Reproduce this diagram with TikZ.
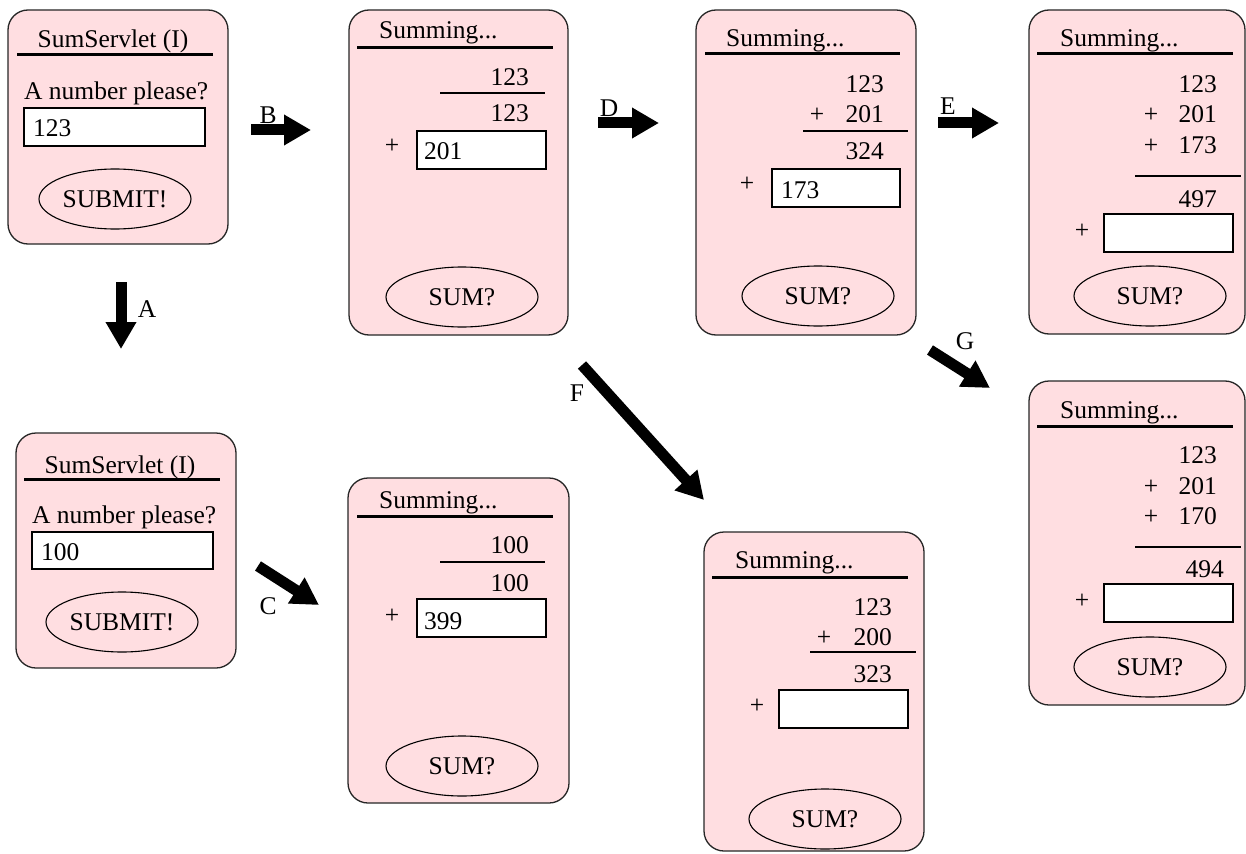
\documentclass[tikz,border=0pt]{standalone}
\usepackage{fontspec}
\setmainfont{Liberation Serif}
\usetikzlibrary{arrows.meta,shapes.geometric}
\definecolor{winpink}{RGB}{255,222,225}
\tikzset{
  window/.style={draw=black!85,line width=1.3pt,fill=winpink,rounded corners=20pt},
  header/.style={line width=3pt},
  field/.style={draw,line width=1.2pt,fill=white},
  sumrule/.style={line width=1.1pt},
  button/.style={draw,ellipse,line width=1.1pt,minimum width=152pt,minimum height=60pt},
  bigarrow/.style={line width=11pt,-{Triangle[length=27pt,width=29pt]}}
}
\begin{document}
\begin{tikzpicture}[x=1pt,y=-1pt,every node/.style={font=\fontsize{25.5}{30}\selectfont,inner sep=0pt}]
		\useasboundingbox (0,0) rectangle (1246,853);
		% Window 1: first form
		\draw[window] (8,10) rectangle (228,244);
		\draw[header] (17,55) -- (213,55);
		\node[anchor=base] (t1) at (113,48) {SumServlet (I)};
		\node[anchor=base west] (q1) at (24,100) {A number please?};
		\draw[field] (24,108) rectangle (205,146);
		\node[anchor=base west] (v1) at (33,137) {123};
		\node[button] (s1) at (115,199) {SUBMIT!};
		% Window 2: first sum
		\draw[window] (349,10) rectangle (568,335);
		\draw[header] (357,48) -- (553,48);
		\node[anchor=base west] (t2) at (379,39) {Summing...};
		\node[anchor=base east] (n2a) at (529,86) {123};
		\draw[sumrule] (440,93) -- (545,93);
		\node[anchor=base east] (n2b) at (529,122) {123};
		\node[anchor=base] (p2) at (392,154) {+};
		\draw[field] (417,131) rectangle (546,169);
		\node[anchor=base west] (v2) at (424,160) {201};
		\node[button] (s2) at (462,297) {SUM?};
		% Window 3: second sum
		\draw[window] (696,10) rectangle (916,335);
		\draw[header] (705,54) -- (900,54);
		\node[anchor=base west] (t3) at (726,47) {Summing...};
		\node[anchor=base east] (n3a) at (884,93) {123};
		\node[anchor=base] (p3a) at (817,123) {+};
		\node[anchor=base east] (n3b) at (884,123) {201};
		\draw[sumrule] (803,131) -- (908,131);
		\node[anchor=base east] (n3c) at (884,160) {324};
		\node[anchor=base] (p3) at (747,191) {+};
		\draw[field] (772,169) rectangle (900,207);
		\node[anchor=base west] (v3) at (781,198) {173};
		\node[button] (s3) at (818,296) {SUM?};
		% Window 4: third sum
		\draw[window] (1029,10) rectangle (1245,334);
		\draw[header] (1037,54) -- (1233,54);
		\node[anchor=base west] (t4) at (1060,47) {Summing...};
		\node[anchor=base east] (n4a) at (1217,93) {123};
		\node[anchor=base] (p4a) at (1151,123) {+};
		\node[anchor=base east] (n4b) at (1217,123) {201};
		\node[anchor=base] (p4b) at (1151,154) {+};
		\node[anchor=base east] (n4c) at (1217,154) {173};
		\draw[sumrule] (1135,176) -- (1241,176);
		\node[anchor=base east] (n4d) at (1217,207) {497};
		\node[anchor=base] (p4) at (1082,238) {+};
		\draw[field] (1104,214) rectangle (1233,252);
		\node[button] (s4) at (1150,296) {SUM?};
		% Window 5: second form
		\draw[window] (16,433) rectangle (236,668);
		\draw[header] (24,479) -- (220,479);
		\node[anchor=base] (t5) at (120,473) {SumServlet (I)};
		\node[anchor=base west] (q5) at (32,523) {A number please?};
		\draw[field] (32,532) rectangle (213,569);
		\node[anchor=base west] (v5) at (41,560) {100};
		\node[button] (s5) at (122,622) {SUBMIT!};
		% Window 6: sum of second form
		\draw[window] (348,478) rectangle (569,803);
		\draw[header] (357,516) -- (553,516);
		\node[anchor=base west] (t6) at (379,508) {Summing...};
		\node[anchor=base east] (n6a) at (529,553) {100};
		\draw[sumrule] (440,562) -- (545,562);
		\node[anchor=base east] (n6b) at (529,591) {100};
		\node[anchor=base] (p6) at (392,623) {+};
		\draw[field] (417,599) rectangle (546,637);
		\node[anchor=base west] (v6) at (424,629) {399};
		\node[button] (s6) at (462,766) {SUM?};
		% Window 7: F
		\draw[window] (704,532) rectangle (924,851);
		\draw[header] (712,577) -- (908,577);
		\node[anchor=base west] (t7) at (735,568) {Summing...};
		\node[anchor=base east] (n7a) at (892,615) {123};
		\node[anchor=base] (p7a) at (824,645) {+};
		\node[anchor=base east] (n7b) at (892,645) {200};
		\draw[sumrule] (810,652) -- (916,652);
		\node[anchor=base east] (n7c) at (892,682) {323};
		\node[anchor=base] (p7) at (757,713) {+};
		\draw[field] (779,690) rectangle (908,728);
		\node[button] (s7) at (825,819) {SUM?};
		% Window 8: G
		\draw[window] (1029,381) rectangle (1245,705);
		\draw[header] (1037,426) -- (1233,426);
		\node[anchor=base west] (t8) at (1060,418) {Summing...};
		\node[anchor=base east] (n8a) at (1217,463) {123};
		\node[anchor=base] (p8a) at (1151,494) {+};
		\node[anchor=base east] (n8b) at (1217,494) {201};
		\node[anchor=base] (p8b) at (1151,524) {+};
		\node[anchor=base east] (n8c) at (1217,524) {170};
		\draw[sumrule] (1135,547) -- (1241,547);
		\node[anchor=base east] (n8d) at (1224,577) {494};
		\node[anchor=base] (p8) at (1082,608) {+};
		\draw[field] (1104,584) rectangle (1233,622);
		\node[button] (s8) at (1150,667) {SUM?};
		% Arrows
		\coordinate (a0) at (121,282); \coordinate (a1) at (121,349);
		\draw[bigarrow] (a0) -- (a1);
		\node (la) at (147,309) {A};
		\coordinate (b0) at (251,130); \coordinate (b1) at (311,130);
		\draw[bigarrow] (b0) -- (b1);
		\node (lb) at (268,115) {B};
		\coordinate (c0) at (258,566); \coordinate (c1) at (319,605);
		\draw[bigarrow] (c0) -- (c1);
		\node (lc) at (268,606) {C};
		\coordinate (d0) at (598,123); \coordinate (d1) at (659,123);
		\draw[bigarrow] (d0) -- (d1);
		\node (ld) at (609,108) {D};
		\coordinate (e0) at (938,123); \coordinate (e1) at (999,123);
		\draw[bigarrow] (e0) -- (e1);
		\node (le) at (948,106) {E};
		\coordinate (f0) at (582,365); \coordinate (f1) at (704,500);
		\draw[bigarrow] (f0) -- (f1);
		\node (lf) at (577,393) {F};
		\coordinate (g0) at (930,350); \coordinate (g1) at (990,388);
		\draw[bigarrow] (g0) -- (g1);
		\node (lg) at (965,341) {G};
\end{tikzpicture}
\end{document}
